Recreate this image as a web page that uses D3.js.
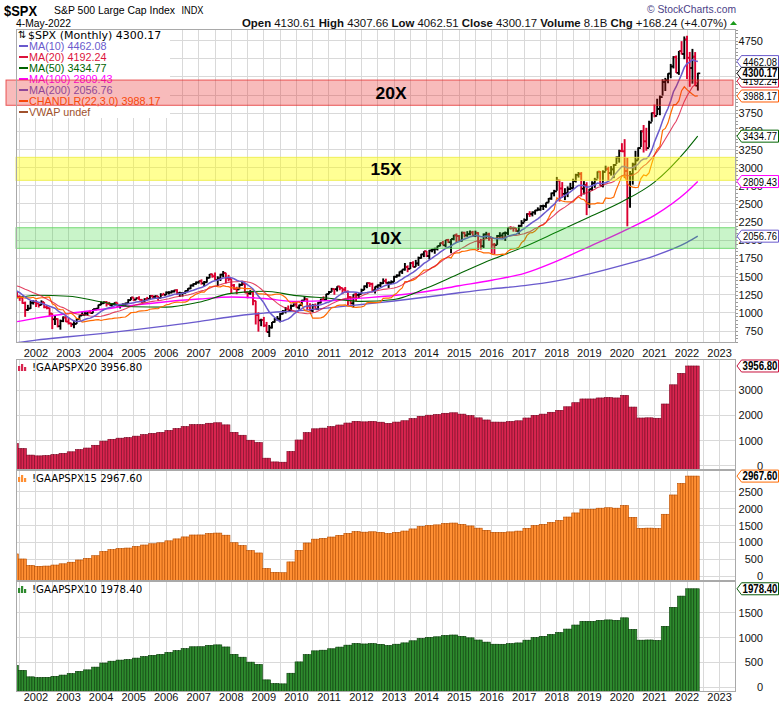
<!DOCTYPE html>
<html><head><meta charset="utf-8">
<script src="https://cdn.jsdelivr.net/npm/d3@7"></script>
<style>body{margin:0;background:#fff}svg{display:block;font-family:"Liberation Sans",Arial,sans-serif}</style>
</head><body><svg id="c" width="780" height="707"></svg>
<script>
// ---------------- DATA ----------------
const firstYear = 1999; // first monthly bar = Jan 1999 (bars before the visible window are clipped)
const spxOpen = [
1229.2,1279.6,1238.3,1286.4,1335.2,1301.8,1372.7,1328.7,1320.4,1282.7,1362.9,1388.9,
1469.3,1394.5,1366.4,1498.6,1452.4,1420.6,1454.6,1430.8,1517.7,1436.5,1429.4,1315.2,
1320.3,1366.0,1239.9,1160.3,1249.5,1255.8,1224.4,1211.2,1133.6,1040.9,1059.8,1139.5,
1148.1,1130.2,1106.7,1147.4,1076.9,1067.1,989.8,911.6,916.1,815.3,885.8,936.3,
879.8,855.7,841.2,848.2,916.9,963.6,974.5,990.3,1008.0,996.0,1050.7,1058.2,
1111.9,1131.1,1144.9,1126.2,1107.3,1120.7,1140.8,1101.7,1104.2,1114.6,1130.2,1173.8,
1211.9,1181.3,1203.6,1180.6,1156.9,1191.5,1191.3,1234.2,1220.3,1228.8,1207.0,1249.5,
1248.3,1280.1,1280.7,1294.9,1310.6,1270.1,1270.2,1276.7,1303.8,1335.9,1377.9,1400.6,
1418.3,1438.2,1406.8,1420.9,1482.4,1530.6,1503.4,1455.3,1474.0,1526.8,1549.4,1481.1,
1468.4,1378.6,1330.6,1322.7,1385.6,1400.4,1280.0,1267.4,1282.8,1166.4,968.8,896.2,
903.3,825.9,735.1,797.9,872.8,919.1,919.3,987.5,1020.6,1057.1,1036.2,1095.6,
1115.1,1073.9,1104.5,1169.4,1186.7,1089.4,1030.7,1101.6,1049.3,1141.2,1183.3,1180.6,
1257.6,1286.1,1327.2,1325.8,1363.6,1345.2,1320.6,1292.3,1218.9,1131.4,1253.3,1247.0,
1257.6,1312.4,1365.7,1408.5,1397.9,1310.3,1362.2,1379.3,1406.6,1440.7,1412.2,1416.2,
1426.2,1498.1,1514.7,1569.2,1597.6,1630.7,1606.3,1685.7,1633.0,1681.6,1756.5,1805.8,
1848.4,1782.6,1859.5,1872.3,1884.0,1923.6,1960.2,1930.7,2003.4,1972.3,2018.1,2067.6,
2058.9,1995.0,2104.5,2067.9,2085.5,2107.4,2063.1,2103.8,1972.2,1920.0,2079.4,2080.4,
2038.2,1940.2,1932.2,2059.7,2065.3,2097.0,2098.9,2173.6,2171.0,2168.3,2126.2,2198.8,
2238.8,2278.9,2363.6,2362.7,2384.2,2411.8,2423.4,2470.3,2471.7,2519.4,2575.3,2647.6,
2673.6,2823.8,2713.8,2640.9,2648.1,2705.3,2718.4,2816.3,2901.5,2914.0,2711.7,2760.2,
2506.9,2704.1,2784.5,2834.4,2945.8,2752.1,2941.8,2980.4,2926.5,2976.7,3037.6,3141.0,
3230.8,3225.5,2954.2,2584.6,2912.4,3044.3,3100.3,3271.1,3500.3,3363.0,3270.0,3621.6,
3756.1,3714.2,3811.2,3972.9,4181.2,4204.1,4297.5,4395.3,4522.7,4307.5,4605.4,4567.0,
4766.2,4515.6,4373.9,4530.4,4130.61];
const spxHigh = [
1280.4,1283.8,1316.6,1375.0,1368.0,1375.0,1420.3,1357.7,1361.0,1373.2,1427.0,1473.9,
1478.0,1444.6,1552.9,1527.2,1481.5,1474.0,1517.3,1525.2,1530.1,1454.8,1438.5,1389.1,
1383.4,1376.9,1263.5,1269.3,1316.0,1286.6,1239.8,1226.3,1155.4,1110.6,1163.4,1173.6,
1176.6,1130.2,1173.0,1147.8,1106.6,1070.0,994.5,965.0,924.0,907.4,951.6,954.3,
935.1,864.6,895.9,924.2,965.4,1015.3,1015.4,1011.0,1040.3,1053.8,1063.6,1112.6,
1155.4,1159.0,1163.2,1150.6,1127.7,1146.3,1140.8,1110.0,1131.5,1142.1,1188.5,1217.3,
1211.9,1212.4,1229.1,1191.9,1199.6,1219.6,1245.2,1245.9,1243.1,1233.3,1270.6,1275.8,
1294.9,1297.6,1310.9,1318.2,1326.7,1290.7,1280.4,1306.7,1340.3,1389.5,1407.9,1431.8,
1441.6,1461.6,1438.9,1498.0,1535.6,1540.6,1555.9,1503.9,1538.7,1576.1,1552.8,1523.6,
1471.8,1396.0,1359.7,1404.6,1440.2,1404.1,1292.2,1313.2,1303.0,1167.0,1007.5,918.9,
943.9,875.0,833.0,875.6,930.2,956.2,996.7,1039.5,1080.2,1101.4,1113.7,1130.4,
1150.5,1112.4,1180.2,1219.8,1200.4,1131.2,1121.0,1129.2,1148.9,1196.1,1227.1,1262.6,
1302.7,1344.1,1332.3,1366.6,1370.6,1345.2,1356.5,1307.4,1229.3,1256.5,1277.6,1269.4,
1333.5,1378.0,1419.2,1422.4,1415.3,1363.5,1392.0,1426.7,1474.5,1471.0,1434.3,1448.0,
1509.9,1530.9,1570.3,1597.6,1687.2,1654.2,1698.8,1709.7,1729.9,1775.2,1813.6,1849.4,
1850.8,1867.9,1884.0,1897.3,1924.0,1968.2,1991.4,2005.0,2019.3,2018.2,2075.8,2093.6,
2072.4,2119.6,2117.5,2125.9,2134.7,2129.9,2132.8,2112.7,2020.9,2094.3,2116.5,2104.3,
2038.2,1963.0,2072.2,2111.1,2103.5,2120.6,2177.1,2193.8,2187.9,2169.6,2214.1,2277.5,
2301.0,2371.5,2401.0,2398.2,2418.7,2453.8,2484.0,2490.9,2519.4,2583.0,2657.7,2695.0,
2872.9,2836.0,2801.9,2717.5,2742.2,2791.5,2848.0,2916.5,2940.9,2939.9,2815.2,2800.2,
2709.0,2813.5,2860.3,2949.5,2954.1,2964.2,3028.0,3013.6,3022.0,3050.1,3154.3,3247.9,
3337.8,3393.5,3136.7,2954.9,3068.7,3233.1,3280.0,3514.8,3588.1,3549.9,3646.0,3760.2,
3870.9,3950.4,3994.4,4218.8,4238.0,4302.4,4430.0,4537.4,4545.9,4608.1,4743.8,4808.9,
4818.6,4595.3,4637.3,4593.5,4307.66];
const spxLow = [
1205.5,1211.9,1226.0,1282.0,1281.4,1276.4,1328.8,1268.7,1268.4,1233.7,1347.7,1387.4,
1350.1,1325.1,1346.6,1339.4,1361.1,1420.6,1413.9,1430.8,1419.4,1305.8,1294.9,1254.1,
1274.6,1228.9,1081.2,1092.0,1232.0,1203.0,1165.5,1124.9,944.8,1026.8,1054.3,1114.5,
1081.7,1074.4,1106.7,1063.5,1048.9,952.9,775.7,833.4,800.2,768.6,872.1,871.8,
840.3,806.3,788.9,847.9,902.8,963.6,962.1,960.8,990.4,996.0,1031.2,1058.2,
1105.1,1124.4,1087.2,1107.2,1076.3,1113.3,1078.0,1060.7,1101.3,1090.2,1127.6,1173.8,
1163.8,1181.0,1176.9,1136.2,1146.2,1188.3,1183.6,1201.1,1205.4,1168.2,1201.1,1246.6,
1245.7,1253.6,1268.4,1280.7,1245.3,1219.3,1224.5,1261.3,1290.9,1327.1,1361.0,1385.9,
1404.0,1389.4,1364.0,1416.4,1476.7,1484.2,1454.3,1370.6,1439.3,1489.6,1406.1,1435.7,
1270.1,1316.8,1257.0,1324.4,1373.1,1272.0,1200.4,1248.5,1106.4,839.8,741.0,815.7,
804.2,734.5,666.8,783.9,866.1,888.9,869.3,978.5,992.0,1029.4,1029.4,1085.9,
1071.6,1044.5,1101.0,1170.7,1040.8,1028.3,1010.9,1039.7,1040.9,1131.9,1173.0,1173.7,
1257.6,1289.1,1249.1,1294.7,1311.8,1258.1,1282.9,1101.5,1114.2,1074.8,1158.7,1202.4,
1258.9,1312.4,1340.0,1357.4,1292.0,1266.7,1325.4,1354.7,1396.6,1403.3,1343.4,1398.1,
1426.2,1485.0,1501.5,1536.0,1581.3,1560.3,1604.6,1627.5,1633.4,1646.5,1746.2,1768.0,
1770.5,1737.9,1834.4,1814.4,1859.8,1916.0,1930.7,1904.8,1964.0,1820.7,2001.0,1972.6,
1988.1,1980.9,2039.7,2048.4,2067.9,2056.3,2044.0,1867.0,1871.9,1893.7,2019.4,1993.3,
1812.3,1810.1,1937.1,2033.8,2025.9,1991.7,2074.0,2147.6,2119.1,2114.7,2083.8,2187.4,
2245.1,2271.7,2322.3,2329.0,2352.7,2405.7,2407.7,2417.4,2446.6,2520.4,2557.5,2605.5,
2682.4,2532.7,2585.9,2553.8,2594.6,2692.0,2699.0,2796.3,2864.1,2603.5,2631.1,2346.6,
2444.0,2681.8,2722.3,2848.6,2750.5,2728.8,2952.2,2822.1,2891.9,2855.9,3050.7,3070.3,
3214.6,2855.8,2191.9,2447.5,2766.6,2965.7,3101.2,3284.5,3209.5,3233.9,3279.7,3633.4,
3694.1,3725.6,3723.3,3992.8,4056.9,4164.4,4233.1,4367.7,4305.9,4278.9,4560.0,4495.1,
4222.6,4114.7,4157.9,4124.3,4062.51];
const spxClose = [
1279.6,1238.3,1286.4,1335.2,1301.8,1372.7,1328.7,1320.4,1282.7,1362.9,1388.9,1469.3,
1394.5,1366.4,1498.6,1452.4,1420.6,1454.6,1430.8,1517.7,1436.5,1429.4,1315.2,1320.3,
1366.0,1239.9,1160.3,1249.5,1255.8,1224.4,1211.2,1133.6,1040.9,1059.8,1139.5,1148.1,
1130.2,1106.7,1147.4,1076.9,1067.1,989.8,911.6,916.1,815.3,885.8,936.3,879.8,
855.7,841.2,848.2,916.9,963.6,974.5,990.3,1008.0,996.0,1050.7,1058.2,1111.9,
1131.1,1144.9,1126.2,1107.3,1120.7,1140.8,1101.7,1104.2,1114.6,1130.2,1173.8,1211.9,
1181.3,1203.6,1180.6,1156.9,1191.5,1191.3,1234.2,1220.3,1228.8,1207.0,1249.5,1248.3,
1280.1,1280.7,1294.9,1310.6,1270.1,1270.2,1276.7,1303.8,1335.9,1377.9,1400.6,1418.3,
1438.2,1406.8,1420.9,1482.4,1530.6,1503.4,1455.3,1474.0,1526.8,1549.4,1481.1,1468.4,
1378.6,1330.6,1322.7,1385.6,1400.4,1280.0,1267.4,1282.8,1166.4,968.8,896.2,903.3,
825.9,735.1,797.9,872.8,919.1,919.3,987.5,1020.6,1057.1,1036.2,1095.6,1115.1,
1073.9,1104.5,1169.4,1186.7,1089.4,1030.7,1101.6,1049.3,1141.2,1183.3,1180.6,1257.6,
1286.1,1327.2,1325.8,1363.6,1345.2,1320.6,1292.3,1218.9,1131.4,1253.3,1247.0,1257.6,
1312.4,1365.7,1408.5,1397.9,1310.3,1362.2,1379.3,1406.6,1440.7,1412.2,1416.2,1426.2,
1498.1,1514.7,1569.2,1597.6,1630.7,1606.3,1685.7,1633.0,1681.6,1756.5,1805.8,1848.4,
1782.6,1859.5,1872.3,1884.0,1923.6,1960.2,1930.7,2003.4,1972.3,2018.1,2067.6,2058.9,
1995.0,2104.5,2067.9,2085.5,2107.4,2063.1,2103.8,1972.2,1920.0,2079.4,2080.4,2043.9,
1940.2,1932.2,2059.7,2065.3,2097.0,2098.9,2173.6,2171.0,2168.3,2126.2,2198.8,2238.8,
2278.9,2363.6,2362.7,2384.2,2411.8,2423.4,2470.3,2471.7,2519.4,2575.3,2647.6,2673.6,
2823.8,2713.8,2640.9,2648.1,2705.3,2718.4,2816.3,2901.5,2914.0,2711.7,2760.2,2506.9,
2704.1,2784.5,2834.4,2945.8,2752.1,2941.8,2980.4,2926.5,2976.7,3037.6,3141.0,3230.8,
3225.5,2954.2,2584.6,2912.4,3044.3,3100.3,3271.1,3500.3,3363.0,3270.0,3621.6,3756.1,
3714.2,3811.2,3972.9,4181.2,4204.1,4297.5,4395.3,4522.7,4307.5,4605.4,4567.0,4766.2,
4515.6,4373.9,4530.4,4131.9,4300.17];

// long moving averages (decimal year, value)
const maYears = [2001.42,2002,2003,2004,2005,2006,2007,2008,2009,2010,2011,2012,2013,2014,2015,2016,2017,2018,2019,2020,2021,2022,2022.33];
const ma50  = [1204,1242,1229,1152,1085,1079,1147,1269,1297,1238,1201,1158,1185,1341,1539,1734,1910,2114,2321,2530,2801,3253,3434.77];
const ma100 = [879,928,992,1046,1106,1154,1190,1218,1197,1158,1168,1203,1239,1295,1373,1450,1545,1714,1914,2117,2342,2668,2809.43];
const ma200 = [589,624,671,714,765,820,879,947,997,1028,1069,1116,1164,1218,1277,1331,1375,1441,1538,1654,1786,1972,2056.76];

// trailing GAAP EPS shown per quarter, starting Apr-Jun 2001
const epsQuarterly = [44,34,21,
19.5,20,22,24.5, 27.6,32,35,40.5, 48.7,52.4,54.6,55.6, 58.6,61.6,64.1,66.0,
69.9,73.7,77.6,81.4, 81.5,84.2,85.2,81.0, 66.2,60.4,50.5,45.9, 14.9,7.5,6.9,28.2,
51.0,65.6,73.2,74.5, 77.4,80.7,84.6,88.0, 87.0,87.8,86.3,84.0, 86.5,89.2,93.4,98.0,
100.2,101.4,104.0,105.0, 102.3,99.3,94.9,90.7, 86.5,86.4,87.6,89.1, 94.6,99.9,102.3,106.0,
109.9,116.9,125.0,132.4, 132.4,134.4,135.3,134.4, 139.5,116.3,94.6,95.0, 94.1,122.4,160.5,183.1,
197.84,197.84];
const panelNames = ["!GAAPSPX20","!GAAPSPX15","!GAAPSPX10"];
const panelMult = [20,15,10];
const panelTicks = [[0,1000,2000,3000],[0,500,1000,1500,2000,2500],[0,500,1000,1500]];

const priceTicks = d3.range(750, 4751, 250);
const yearLabels = d3.range(2002, 2024);
const bands = [{lo:3860,hi:4208,label:"20X"},{lo:2826,hi:3143,label:"15X"},{lo:1889,hi:2173,label:"10X"}];
const legendItems = [
 {name:"MA(10)", val:"4462.08", c:"#6a5acd"},
 {name:"MA(20)", val:"4192.24", c:"#dc143c"},
 {name:"MA(50)", val:"3434.77", c:"#006400"},
 {name:"MA(100)", val:"2809.43", c:"#ff00ff"},
 {name:"MA(200)", val:"2056.76", c:"#6a5acd"},
 {name:"CHANDLR(22,3.0)", val:"3988.17", c:"#ff5a00"},
 {name:"VWAP", val:"undef", c:"#a0522d"}];

// ---------------- CHART ----------------
const svg = d3.select("#c");
const X0 = 16, X1 = 736;
const x = d3.scaleLinear().domain([2001.3856, 2023.505]).range([X0, X1]);
const mainTop = 29, mainBot = 343;
const y = d3.scaleLinear().domain([750, 4750]).range([331, 40.7]);
const tOf = i => firstYear + i / 12;
const n = Math.min(spxOpen.length, spxHigh.length, spxLow.length, spxClose.length);
const startIdx = d3.range(n).find(i => tOf(i) >= 2001.40);
const gridC = "#d9d9d9";

const defs = svg.append("defs");
function clip(id, y0, y1){ defs.append("clipPath").attr("id", id).append("rect").attr("x", X0).attr("y", y0).attr("width", X1 - X0).attr("height", y1 - y0); }
clip("cm", mainTop, mainBot);

// header
svg.append("text").attr("x",4).attr("y",16).attr("font-size",15).attr("font-weight","bold").attr("textLength",33).attr("lengthAdjust","spacingAndGlyphs").text("$SPX");
svg.append("text").attr("x",54).attr("y",14).attr("font-size",11.5).attr("textLength",121).attr("lengthAdjust","spacingAndGlyphs").text("S&P 500 Large Cap Index");
svg.append("text").attr("x",181.5).attr("y",14).attr("font-size",10).attr("textLength",22).attr("lengthAdjust","spacingAndGlyphs").text("INDX");
svg.append("text").attr("x",16).attr("y",27).attr("font-size",11.5).attr("textLength",55).attr("lengthAdjust","spacingAndGlyphs").text("4-May-2022");
svg.append("text").attr("x",647).attr("y",13).attr("font-size",11).attr("fill","#4b3f87").attr("textLength",89).attr("lengthAdjust","spacingAndGlyphs").text("© StockCharts.com");
const hdr = svg.append("text").attr("x",242).attr("y",27).attr("font-size",11.5).attr("textLength",485).attr("lengthAdjust","spacingAndGlyphs");
[["Open",1],[" 4130.61  ",0],["High",1],[" 4307.66  ",0],["Low",1],[" 4062.51  ",0],["Close",1],[" 4300.17  ",0],["Volume",1],[" 8.1B  ",0],["Chg",1],[" +168.24 (+4.07%)",0]]
 .forEach(([t,b]) => hdr.append("tspan").attr("font-weight", b ? "bold" : "normal").attr("fill", "#111").text(t));
svg.append("path").attr("d","M730,25 L733.5,21 L737,25 Z").attr("fill","#1a9a1a");

// main frame background
svg.append("rect").attr("x",X0).attr("y",mainTop).attr("width",X1-X0).attr("height",mainBot-mainTop).attr("fill","#fff");
const gm = svg.append("g");
// gridlines
const halfYears = d3.range(2001.5, 2023.6, 0.5);
gm.selectAll("line.vg").data(halfYears).join("line").attr("x1",d=>x(d)).attr("x2",d=>x(d)).attr("y1",mainTop).attr("y2",mainBot).attr("stroke",gridC).attr("stroke-width",1).attr("shape-rendering","crispEdges");
gm.selectAll("line.hg").data(priceTicks).join("line").attr("x1",X0).attr("x2",X1).attr("y1",d=>y(d)).attr("y2",d=>y(d)).attr("stroke",gridC).attr("shape-rendering","crispEdges");

const plot = gm.append("g").attr("clip-path","url(#cm)");
// price bars
const barsIdx = d3.range(startIdx, n);
const bars = plot.append("g");
barsIdx.forEach(i => {
  const up = i === 0 || spxClose[i] >= spxClose[i-1];
  const col = up ? "#000" : "#dc0030";
  const xx = x(tOf(i));
  const g = bars.append("g").attr("stroke", col).attr("stroke-width", 1.9);
  g.append("line").attr("x1",xx).attr("x2",xx).attr("y1",y(spxHigh[i])).attr("y2",y(spxLow[i]));
  g.append("line").attr("x1",xx-2.2).attr("x2",xx).attr("y1",y(spxOpen[i])).attr("y2",y(spxOpen[i])).attr("stroke-width",1.6);
  g.append("line").attr("x1",xx).attr("x2",xx+2.4).attr("y1",y(spxClose[i])).attr("y2",y(spxClose[i])).attr("stroke-width",1.6);
});

// overlays (indicators derived from the price arrays)
function sma(p){ return spxClose.map((c,i)=> i < p-1 ? null : d3.mean(spxClose.slice(i-p+1, i+1))); }
const tr = spxHigh.map((h,i)=> i===0 ? h - spxLow[i] : Math.max(h - spxLow[i], Math.abs(h - spxClose[i-1]), Math.abs(spxLow[i] - spxClose[i-1])));
const atr = [];
tr.forEach((t,i)=>{ if(i<21) atr.push(null); else if(i===21) atr.push(d3.mean(tr.slice(0,22))); else atr.push((atr[i-1]*21 + t)/22); });
const chand = spxHigh.map((h,i)=> atr[i]==null ? null : d3.max(spxHigh.slice(Math.max(0,i-21), i+1)) - 3*atr[i]);
const lineIdx = d3.line().defined(d=>d.v!=null).x(d=>x(d.t)).y(d=>y(d.v));
const ser = arr => d3.range(startIdx-1, n).map(i=>({t:tOf(i), v:arr[i]}));
const lineS = d3.line().x((d,i)=>x(maYears[i])).y(d=>y(d)).curve(d3.curveMonotoneX);
plot.append("path").attr("d", lineS(ma200)).attr("fill","none").attr("stroke","#6a5acd").attr("stroke-width",1.4);
plot.append("path").attr("d", lineS(ma100)).attr("fill","none").attr("stroke","#ff00ff").attr("stroke-width",1.4);
plot.append("path").attr("d", lineS(ma50)).attr("fill","none").attr("stroke","#006400").attr("stroke-width",1.1);
plot.append("path").attr("d", lineIdx(ser(chand))).attr("fill","none").attr("stroke","#ff6a00").attr("stroke-width",1.2);
plot.append("path").attr("d", lineIdx(ser(sma(20)))).attr("fill","none").attr("stroke","#dc143c").attr("stroke-width",1.1).attr("stroke-opacity",0.8);
plot.append("path").attr("d", lineIdx(ser(sma(10)))).attr("fill","none").attr("stroke","#6a5acd").attr("stroke-width",1.5);

// legend
gm.append("rect").attr("x",X0+1).attr("y",mainTop+1).attr("width",153).attr("height",88).attr("fill","#fff");
gm.append("text").attr("x",18).attr("y",38).attr("font-size",10).attr("font-family","DejaVu Sans").text("⇅");
gm.append("text").attr("x",28).attr("y",38.5).attr("font-size",11).attr("font-family","DejaVu Sans").text("$SPX (Monthly) 4300.17");
legendItems.forEach((d,k)=>{
  const yy = 46 + k*11;
  gm.append("line").attr("x1",19).attr("x2",28).attr("y1",yy).attr("y2",yy).attr("stroke",d.c).attr("stroke-width",2);
  gm.append("text").attr("x",29).attr("y",yy+3.8).attr("font-size",10.8).attr("fill",d.c).text(d.name + " " + d.val);
});

// bands
const bandStyle = [{f:"rgba(232,30,30,0.30)",s:"rgba(225,40,40,0.75)",x0:6,x1:733},{f:"rgba(255,255,0,0.42)",s:"rgba(235,235,60,0.8)",x0:X0,x1:X1},{f:"rgba(40,210,40,0.25)",s:"rgba(90,210,90,0.8)",x0:X0,x1:X1}];
bands.forEach((b,k)=>{
  const st = bandStyle[k];
  svg.append("rect").attr("x",st.x0).attr("width",st.x1-st.x0).attr("y",y(b.hi)).attr("height",y(b.lo)-y(b.hi)).attr("fill",st.f).attr("stroke",st.s).attr("stroke-width",1);
  svg.append("text").attr("x", k===0 ? 391 : 386).attr("y",(y(b.hi)+y(b.lo))/2+6).attr("text-anchor","middle").attr("font-size",17).attr("font-weight","bold").attr("textLength",31).attr("lengthAdjust","spacingAndGlyphs").text(b.label);
});

// main frame
svg.append("rect").attr("x",X0+0.5).attr("y",mainTop+0.5).attr("width",X1-X0-1).attr("height",mainBot-mainTop-1).attr("fill","none").attr("stroke","#a9a9a9");

// value tags (last values of the overlays)
const tagVals = legendItems.filter(d=>d.val!=="undef").map(d=>({v:+d.val, c:d.c, bold:false}));
tagVals.push({v:spxClose[n-1], c:"#000", bold:true});
const tagYs = tagVals.map(d=>y(d.v));
// right axis: labels that sit completely under a value tag are not shown (as in the reference)
const visTicks = priceTicks.filter(t => { const ty = y(t); const near = tagYs.filter(q => Math.abs(q-ty) < 5.5); return !(near.some(q=>Math.abs(q-ty)<2) || near.length>=2); });
svg.selectAll("text.pt").data(visTicks).join("text").attr("x",763).attr("y",d=>y(d)+4).attr("text-anchor","end").attr("font-size",11).attr("fill","#111").text(d=>d);
svg.selectAll("line.mt").data(d3.range(600, 4901, 50)).join("line").attr("x1",X1).attr("x2",X1+2).attr("y1",d=>Math.round(y(d))+0.5).attr("y2",d=>Math.round(y(d))+0.5).attr("stroke","#999");
// x axis labels
function yearAxis(yy){ svg.append("g").selectAll("text").data(yearLabels).join("text").attr("x",d=>x(d)).attr("y",yy).attr("text-anchor","middle").attr("font-size",11).attr("fill","#111").text(d=>d); }
yearAxis(357);

function tag(yy, txt, col, bold){
  svg.append("path").attr("d",`M737,${yy} L741.5,${yy-6} L778.5,${yy-6} L778.5,${yy+6} L741.5,${yy+6} Z`).attr("fill","#fff").attr("stroke",col).attr("stroke-width",1);
  svg.append("text").attr("x",760).attr("y",yy+4).attr("text-anchor","middle").attr("font-size",bold?12:11).attr("font-weight",bold?"bold":"normal").attr("textLength",bold?35:34).attr("lengthAdjust","spacingAndGlyphs").attr("fill","#000").text(txt);
}
[4,3,2,5,1,0].forEach(k=>{ const d = tagVals[k]; tag(y(d.v), d.v.toFixed(2), d.c, false); });
tag(y(spxClose[n-1]), spxClose[n-1].toFixed(2), "#000", true);

// ---------------- PANELS ----------------
const panels = [
 {top:359, bot:470, zero:465.7, max:4000, maxPx:364.9, fill:"#d8254f", stroke:"#7d0a26", tagc:"#c8103c"},
 {top:470, bot:581, zero:576.2, max:3000, maxPx:475.0, fill:"#ff8f33", stroke:"#b84e00", tagc:"#ff6a00"},
 {top:581, bot:692, zero:687.3, max:2000, maxPx:587.7, fill:"#2e8a2e", stroke:"#0b3f0b", tagc:"#0a5a0a"}];
const months = d3.range(startIdx, n);
panels.forEach((p,k)=>{
  clip("cp"+k, p.top, p.bot);
  const yp = d3.scaleLinear().domain([0,p.max]).range([p.zero,p.maxPx]);
  const g = svg.append("g");
  g.append("rect").attr("x",X0).attr("y",p.top).attr("width",X1-X0).attr("height",p.bot-p.top).attr("fill","#fff");
  g.selectAll("line.v").data(halfYears).join("line").attr("x1",d=>x(d)).attr("x2",d=>x(d)).attr("y1",p.top).attr("y2",p.bot).attr("stroke",gridC).attr("shape-rendering","crispEdges");
  g.selectAll("line.h").data(panelTicks[k]).join("line").attr("x1",X0).attr("x2",X1).attr("y1",d=>yp(d)).attr("y2",d=>yp(d)).attr("stroke",gridC).attr("shape-rendering","crispEdges");
  const w = x(2002+1/12) - x(2002);
  const vals = months.map(i => ({t:tOf(i), v: epsQuarterly[Math.floor((i - startIdx + 2)/3)] * panelMult[k]}));
  g.append("g").attr("clip-path",`url(#cp${k})`).selectAll("rect").data(vals).join("rect")
    .attr("x",d=>x(d.t)-w/2).attr("width",w).attr("y",d=>yp(d.v)).attr("height",d=>p.bot-yp(d.v))
    .attr("fill",p.fill).attr("stroke",p.stroke).attr("stroke-width",0.6);
  g.append("rect").attr("x",X0+0.5).attr("y",p.top+0.5).attr("width",X1-X0-1).attr("height",p.bot-p.top-1).attr("fill","none").attr("stroke","#a9a9a9");
  // label
  const ly = p.top + 8;
  [[0,4],[3,6],[6,3]].forEach(([dx,h])=> g.append("rect").attr("x",18+dx).attr("y",ly+3-h).attr("width",2.2).attr("height",h+1).attr("fill",p.fill));
  const last = vals[vals.length-1].v;
  g.append("text").attr("x",32).attr("y",ly+3.5).attr("font-size",10.2).attr("font-family","DejaVu Sans").text(panelNames[k] + " " + last.toFixed(2));
  const tagY = yp(last);
  const pt = panelTicks[k].filter(t => Math.abs(yp(t)-tagY) > 6);
  g.selectAll("text.t").data(pt).join("text").attr("x",763).attr("y",d=>yp(d)+4).attr("text-anchor","end").attr("font-size",11).attr("fill","#111").text(d=>d);
  tag(tagY, last.toFixed(2), p.tagc, true);
});
yearAxis(701);
</script></body></html>
